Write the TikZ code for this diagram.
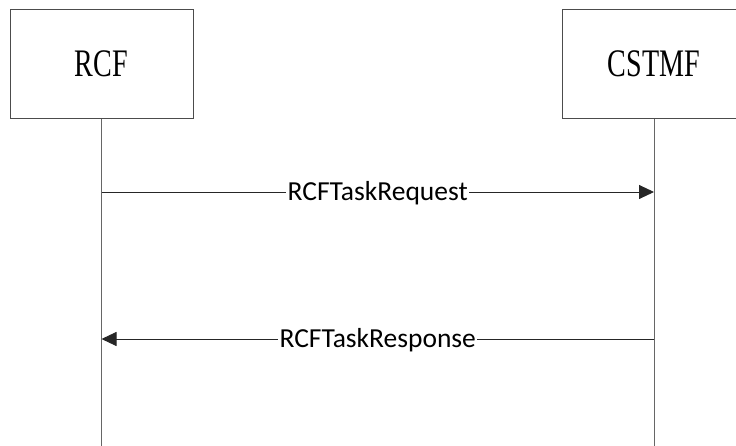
\documentclass[tikz,border=0pt]{standalone}
\usepackage{fontspec}
\setmainfont{Liberation Serif}
\newfontfamily\msgfont{Carlito}
\usetikzlibrary{arrows.meta}

\tikzset{
  entity/.style={draw=black!70, line width=1pt, minimum width=183pt, minimum height=109pt, inner sep=0pt},
  lifeline/.style={draw=black!60, line width=1pt},
  msg/.style={draw=black!85, line width=0.9pt, -{Triangle[length=15pt,width=14pt]}},
  msglabel/.style={fill=white, inner sep=1.5pt, font=\msgfont\fontsize{27.5}{30}\selectfont}
}

\begin{document}
\begin{tikzpicture}[x=1pt, y=-1pt]
  \useasboundingbox (0,0) rectangle (736,446);
  \node[entity] (rcf) at (101.5, 64) {};
  \node[entity] (cstmf) at (654, 64) {};
  \node[xscale=0.72, font=\fontsize{39}{40}\selectfont] (rcftext) at (rcf.center) {RCF};
  \node[xscale=0.72, font=\fontsize{39}{40}\selectfont] (cstmftext) at (cstmf.center) {CSTMF};
  \coordinate (rcfend) at (101.5, 446);
  \coordinate (cstmfend) at (654, 446);
  \draw[lifeline] (rcf.south) -- (rcfend);
  \draw[lifeline] (cstmf.south) -- (cstmfend);

  \coordinate (req1) at (101.5, 192);
  \coordinate (req2) at (654, 192);
  \coordinate (resp1) at (654, 339);
  \coordinate (resp2) at (101.5, 339);
  \draw[msg] (req1) -- node[msglabel, yshift=-1pt] (reqlabel) {RCFTaskRequest} (req2);
  \draw[msg] (resp1) -- node[msglabel, yshift=-1pt] (resplabel) {RCFTaskResponse} (resp2);
\end{tikzpicture}
\end{document}
